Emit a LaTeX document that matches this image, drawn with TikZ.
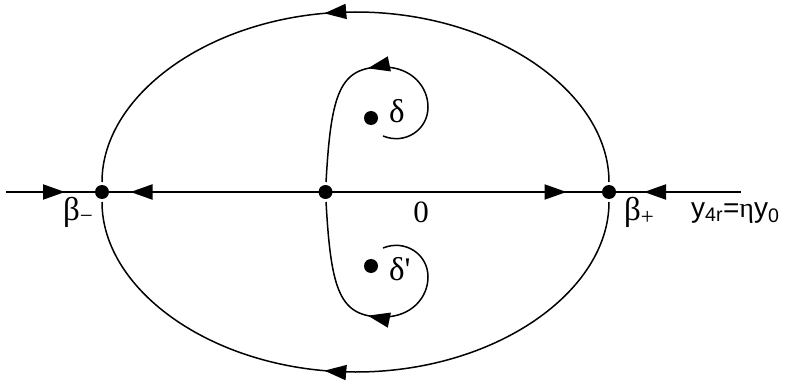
\documentclass[tikz,border=0pt]{standalone}
\usepackage{fontspec}
\setmainfont{Liberation Serif}
\newfontfamily\labsans{Liberation Sans}
\usetikzlibrary{arrows.meta, decorations.markings}

\tikzset{
  >={Triangle[length=22pt,width=15pt]},
  blob/.style={circle, fill, inner sep=0pt, minimum size=14pt, outer sep=3pt},
  flow/.style={postaction={decorate},
    decoration={markings, mark=at position #1 with {\arrow{>}}}},
  axisline/.style={line width=2pt},
  curve/.style={line width=1.5pt},
  lab/.style={inner sep=0pt, font=\fontsize{33}{37}\selectfont},
}

\begin{document}
\begin{tikzpicture}[x=1pt, y=1pt]
  \useasboundingbox (0,-191) rectangle (788,192);
  % fixed points on the axis
  \node[blob] (bm) at (102,0) {};
  \node[blob] (o) at (325.5,0) {};
  \node[blob] (bp) at (609,0) {};
  \coordinate (l) at (6,0);
  \coordinate (r) at (741,0);
  % poles
  \node[blob] (d1) at (371,74) {};
  \node[blob] (d2) at (371,-74) {};
  % axis
  \draw[axisline, flow=59pt] (l) -- (bm.center);
  \draw[axisline, flow=195pt] (o.center) -- (bm.center);
  \draw[axisline, flow=241pt] (o.center) -- (bp.center);
  \draw[axisline, flow=97pt] (r) -- (bp.center);
  % big loop
  \coordinate (et) at (355.5,180);
  \coordinate (eb) at (355.5,-180);
  \draw[curve, flow=366pt] (bp) .. controls (609,99.4) and (495.5,180) .. (et)
    .. controls (215.5,180) and (102,99.4) .. (bm);
  \draw[curve, flow=366pt] (bp) .. controls (609,-99.4) and (495.5,-180) .. (eb)
    .. controls (215.5,-180) and (102,-99.4) .. (bm);
  % small loops round the poles
  \coordinate (ue) at (383,56);
  \coordinate (ut) at (383,125);
  \draw[curve, flow=146pt] (ue) .. controls (405,47) and (428,62) .. (428,85)
    .. controls (428,105) and (412,125) .. (ut)
    .. controls (340,125) and (331,100) .. (o);
  \coordinate (le) at (383,-56);
  \coordinate (lt) at (383,-125);
  \draw[curve, flow=146pt] (le) .. controls (405,-47) and (428,-62) .. (428,-85)
    .. controls (428,-105) and (412,-125) .. (lt)
    .. controls (340,-125) and (331,-100) .. (o);
  % labels
  \node[lab, anchor=base west] (lbm) at (63,-28) {β\textsubscript{−}};
  \node[lab, anchor=base west] (lbp) at (624,-28) {β\textsubscript{+}};
  \node[lab, anchor=base, font=\fontsize{31}{35}\selectfont] (lo) at (421,-30) {0};
  \node[lab, anchor=base west] (ld1) at (389,70) {δ};
  \node[lab, anchor=base west] (ld2) at (389,-88) {δ\textquotesingle};
  \node[lab, anchor=base west, font=\labsans\fontsize{28}{32}\selectfont] (ly)
    at (691,-25) {y\textsubscript{4r}=\textrm{η}y\textsubscript{0}};
\end{tikzpicture}
\end{document}
